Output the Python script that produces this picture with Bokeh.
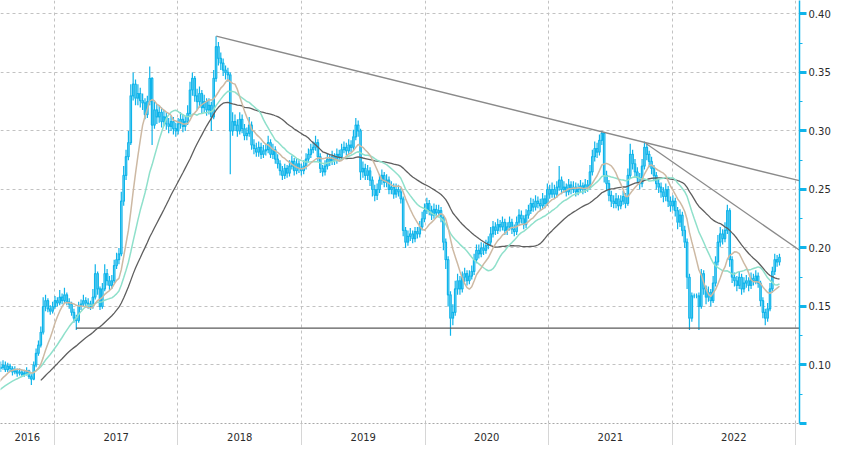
import numpy as np
import pandas as pd
from bokeh.plotting import figure
from bokeh.models import FixedTicker, Range1d, ColumnDataSource, PrintfTickFormatter
from bokeh.embed import file_html
from bokeh.resources import INLINE

# ---------------- data (weekly bars) ----------------
start_date = "2016-02-22"

close = [
    .068, .067, .069, .070, .068, .071, .072, .070, .073, .074,
    .072, .075, .074, .077, .079, .078, .082, .085, .088, .091,
    .094, .097, .098, .100, .096, .099, .097, .094, .095, .093,
    .094, .092, .093, .095, .090, .088, .100, .110, .117, .128,
    .150, .155, .148, .146, .150, .155, .153, .158, .155, .160,
    .154, .152, .145, .140, .138, .150, .152, .155, .153, .152,
    .150, .158, .178, .165, .150, .165, .178, .172, .168, .172,
    .185, .190, .195, .240, .262, .278, .290, .330, .340, .328,
    .332, .326, .324, .314, .325, .345, .305, .318, .312, .316,
    .308, .312, .306, .304, .308, .302, .300, .306, .310, .304,
    .308, .315, .335, .345, .330, .325, .332, .320, .325, .318,
    .322, .312, .345, .372, .362, .358, .352, .350, .348, .300,
    .308, .305, .300, .310, .302, .296, .298, .305, .288, .285,
    .282, .286, .280, .283, .284, .290, .280, .284, .276, .272,
    .266, .262, .268, .264, .270, .274, .266, .272, .268, .266,
    .270, .276, .280, .284, .286, .290, .278, .268, .265, .270,
    .276, .274, .278, .275, .280, .278, .284, .286, .283, .288,
    .286, .295, .305, .300, .265, .268, .262, .266, .258, .250,
    .245, .250, .258, .262, .256, .258, .250, .252, .246, .250,
    .248, .242, .215, .205, .210, .212, .208, .214, .212, .218,
    .225, .232, .238, .232, .228, .233, .230, .232, .226, .205,
    .190, .160, .140, .145, .165, .172, .165, .175, .178, .172,
    .176, .180, .190, .198, .195, .200, .198, .202, .205, .212,
    .218, .215, .220, .218, .222, .215, .218, .222, .216, .214,
    .222, .228, .225, .220, .228, .232, .238, .235, .240, .238,
    .236, .242, .238, .250, .246, .250, .246, .252, .258, .250,
    .252, .248, .254, .250, .252, .248, .250, .253, .250, .254,
    .252, .265, .278, .285, .282, .292, .298, .262, .255, .245,
    .240, .238, .242, .236, .240, .244, .238, .262, .280, .272,
    .265, .260, .255, .270, .286, .280, .274, .268, .262, .255,
    .252, .248, .244, .250, .240, .236, .240, .232, .222, .228,
    .215, .205, .175, .140, .159, .159, .159, .150, .178, .165,
    .158, .162, .155, .170, .188, .205, .212, .208, .215, .232,
    .190, .175, .172, .168, .175, .165, .170, .172, .168, .174,
    .172, .176, .170, .155, .145, .140, .148, .165, .180, .190,
    .188, .192,
]

high = [
    .071, .070, .071, .072, .072, .073, .074, .074, .075, .076,
    .076, .077, .077, .079, .081, .081, .084, .087, .090, .093,
    .096, .100, .103, .104, .103, .102, .101, .099, .099, .097,
    .097, .096, .096, .098, .096, .092, .103, .114, .121, .133,
    .158, .160, .157, .151, .154, .159, .158, .164, .161, .166,
    .162, .157, .154, .148, .143, .154, .156, .160, .158, .157,
    .155, .165, .186, .180, .167, .170, .186, .182, .176, .177,
    .190, .196, .200, .248, .270, .284, .300, .340, .350, .344,
    .340, .337, .332, .328, .330, .355, .346, .325, .323, .322,
    .320, .318, .316, .311, .313, .312, .307, .311, .316, .314,
    .313, .322, .342, .350, .347, .336, .338, .335, .331, .328,
    .328, .325, .352, .381, .376, .367, .362, .356, .354, .350,
    .316, .314, .310, .316, .314, .306, .303, .312, .308, .293,
    .290, .291, .290, .288, .289, .296, .293, .289, .287, .280,
    .275, .270, .272, .271, .275, .279, .277, .276, .275, .272,
    .275, .281, .285, .289, .291, .296, .293, .281, .271, .275,
    .281, .280, .283, .281, .285, .284, .289, .291, .290, .293,
    .292, .301, .311, .309, .302, .274, .272, .271, .269, .261,
    .254, .255, .263, .267, .265, .263, .261, .257, .255, .255,
    .254, .251, .244, .218, .215, .217, .215, .218, .218, .223,
    .231, .238, .243, .241, .236, .238, .237, .237, .235, .228,
    .208, .193, .163, .152, .172, .178, .176, .180, .183, .181,
    .181, .185, .195, .203, .203, .205, .204, .207, .210, .218,
    .223, .222, .225, .224, .227, .225, .222, .227, .225, .220,
    .227, .233, .232, .228, .233, .237, .243, .242, .245, .244,
    .242, .247, .245, .255, .254, .256, .254, .257, .270, .261,
    .257, .255, .259, .257, .257, .256, .255, .258, .256, .259,
    .258, .271, .284, .291, .290, .297, .300, .299, .266, .258,
    .249, .245, .247, .245, .245, .249, .247, .268, .289, .284,
    .276, .269, .264, .276, .291, .289, .283, .278, .271, .265,
    .259, .256, .252, .255, .253, .244, .245, .243, .235, .233,
    .231, .219, .208, .178, .162, .161, .161, .162, .182, .181,
    .168, .167, .165, .176, .193, .211, .218, .216, .222, .237,
    .234, .193, .179, .176, .180, .178, .175, .177, .175, .179,
    .178, .181, .179, .172, .158, .148, .153, .170, .184, .195,
    .194, .195,
]

low = [
    .065, .065, .066, .067, .066, .067, .070, .068, .069, .071,
    .070, .071, .072, .073, .076, .076, .077, .081, .084, .087,
    .090, .093, .094, .096, .094, .094, .094, .091, .092, .090,
    .091, .090, .090, .091, .088, .083, .087, .098, .108, .115,
    .126, .146, .145, .143, .144, .148, .150, .151, .152, .153,
    .151, .148, .142, .136, .130, .136, .147, .150, .149, .148,
    .147, .148, .156, .160, .147, .148, .163, .168, .164, .165,
    .170, .182, .186, .193, .236, .258, .275, .288, .326, .322,
    .322, .320, .318, .310, .311, .322, .288, .302, .306, .307,
    .303, .304, .301, .298, .300, .297, .295, .297, .302, .299,
    .300, .305, .312, .330, .325, .318, .320, .315, .316, .313,
    .314, .300, .310, .342, .356, .352, .347, .344, .342, .263,
    .296, .300, .295, .297, .298, .292, .292, .295, .284, .280,
    .278, .278, .276, .277, .279, .281, .277, .276, .272, .268,
    .262, .258, .259, .260, .261, .267, .262, .263, .264, .262,
    .263, .267, .273, .277, .281, .283, .274, .264, .261, .262,
    .267, .270, .271, .271, .272, .274, .275, .281, .279, .280,
    .282, .283, .292, .295, .258, .260, .258, .258, .253, .244,
    .240, .241, .247, .254, .252, .252, .246, .246, .242, .243,
    .244, .238, .210, .200, .202, .206, .204, .205, .208, .209,
    .215, .222, .229, .228, .224, .225, .226, .227, .222, .198,
    .182, .150, .125, .134, .142, .160, .160, .162, .171, .168,
    .169, .173, .177, .187, .191, .192, .194, .195, .199, .202,
    .209, .211, .212, .214, .215, .211, .211, .215, .212, .210,
    .211, .219, .221, .216, .217, .225, .229, .231, .232, .234,
    .232, .233, .234, .236, .242, .243, .242, .243, .249, .246,
    .247, .244, .245, .246, .247, .244, .245, .247, .246, .247,
    .248, .250, .262, .274, .277, .279, .288, .256, .249, .240,
    .235, .234, .234, .232, .233, .237, .234, .236, .259, .267,
    .260, .255, .250, .252, .267, .275, .269, .263, .257, .250,
    .247, .243, .239, .240, .235, .231, .232, .227, .216, .218,
    .210, .200, .165, .130, .137, .157, .157, .130, .148, .160,
    .152, .154, .150, .153, .167, .185, .201, .203, .205, .212,
    .184, .170, .167, .163, .165, .160, .162, .166, .163, .165,
    .168, .169, .166, .150, .140, .134, .137, .146, .162, .177,
    .184, .185,
]

ma_windows = [10, 20, 40]          # ~50, 100, 200 trading days

x_start, x_end = 2016.563, 2023.032
year_bounds = [2017, 2018, 2019, 2020, 2021, 2022, 2023]
year_label_pos = [2016.78, 2017.5, 2018.5, 2019.5, 2020.5, 2021.5, 2022.5]
year_labels = ["2016", "2017", "2018", "2019", "2020", "2021", "2022"]

price_ticks = [0.05, 0.10, 0.15, 0.20, 0.25, 0.30, 0.35, 0.40]
price_minor = [0.075, 0.125, 0.175, 0.225, 0.275, 0.325, 0.375]
price_grid = [0.10, 0.15, 0.20, 0.25, 0.30, 0.35, 0.40]

# trend lines (decimal year, price)
resist1_x = [2018.31, 2023.03]
resist1_y = [0.381, 0.2575]
resist2_x = [2021.786, 2023.04]
resist2_y = [0.2895, 0.1975]
support_x = [2017.175, 2023.05]
support_y = [0.1315, 0.1315]

# ---------------- build ----------------
n = min(len(close), len(high), len(low))
close_a = np.array(close[:n])
open_a = np.concatenate([[close_a[0]], close_a[:-1]])
dates = pd.date_range(start_date, periods=n, freq="7D")
xyear = (dates.year + (dates.dayofyear - 0.5) / np.where(dates.is_leap_year, 366, 365)).to_numpy()

s = pd.Series(close_a)
ma = [s.rolling(w).mean().to_numpy() for w in ma_windows]

vis = xyear >= x_start          # bars inside the visible window
src = ColumnDataSource(dict(
    x=xyear[vis],
    top=np.maximum(open_a, close_a)[vis],
    bottom=np.minimum(open_a, close_a)[vis],
    high=np.array(high[:n])[vis],
    low=np.array(low[:n])[vis],
))

CYAN = "#0fb4ea"
BOTTOM = 22
p = figure(width=833, height=445,
           x_range=Range1d(x_start, x_end), y_range=Range1d(0.05, 0.4115),
           y_axis_location="right", toolbar_location=None, output_backend="svg",
           min_border_left=0, min_border_top=0, min_border_right=32, min_border_bottom=BOTTOM,
           background_fill_color="white", border_fill_color="white")
p.outline_line_color = None

# grids
p.xgrid.ticker = FixedTicker(ticks=year_bounds)
p.ygrid.ticker = FixedTicker(ticks=price_grid)
for g in (p.xgrid, p.ygrid):
    g.grid_line_color = "#c2c2c2"
    g.grid_line_dash = "3 3"
    g.grid_line_width = 1

# x axis: year separators as long minor ticks, labels centred in each year
xa = p.xaxis[0]
xa.ticker = FixedTicker(ticks=year_label_pos, minor_ticks=year_bounds)
xa.major_label_overrides = dict(zip(year_label_pos, year_labels))
xa.major_tick_line_color = None
xa.major_tick_out = 0
xa.major_tick_in = 0
xa.minor_tick_out = BOTTOM
xa.minor_tick_in = 0
xa.minor_tick_line_color = "#d6d6d6"
xa.major_label_standoff = -(BOTTOM - 9)
xa.axis_line_color = "#a8a8a8"
xa.axis_line_dash = "2 2"
xa.major_label_text_font = "DejaVu Sans"
xa.major_label_text_font_size = "10px"
xa.major_label_text_color = "#2b2b2b"

# y axis (right)
ya = p.yaxis[0]
ya.ticker = FixedTicker(ticks=price_ticks, minor_ticks=price_minor)
ya.formatter = PrintfTickFormatter(format="%.2f")
ya.major_label_overrides = {price_ticks[0]: ""}
ya.axis_line_color = CYAN
ya.axis_line_width = 1.5
ya.major_tick_line_color = CYAN
ya.major_tick_line_width = 3
ya.major_tick_out = 7
ya.major_tick_in = 0
ya.minor_tick_line_color = CYAN
ya.minor_tick_out = 3
ya.minor_tick_in = 0
ya.major_label_standoff = 2
ya.major_label_text_font = "DejaVu Sans"
ya.major_label_text_font_size = "10px"
ya.major_label_text_color = "#2b2b2b"

# candles
bar_w = 4.2 / 365.25
p.segment(x0="x", y0="low", x1="x", y1="high", source=src, line_color=CYAN, line_width=1.2)
p.vbar(x="x", width=bar_w, top="top", bottom="bottom", source=src,
       fill_color="white", line_color=CYAN, line_width=1.2)

# moving averages
p.line(xyear, ma[2], line_color="#5e5e5e", line_width=1.3)
p.line(xyear, ma[1], line_color="#8fe0cb", line_width=1.5)
p.line(xyear, ma[0], line_color="#cdb9a3", line_width=1.5)

# trend lines
p.line(resist1_x, resist1_y, line_color="#8a8a8a", line_width=1.3)
p.line(resist2_x, resist2_y, line_color="#8a8a8a", line_width=1.3)
p.line(support_x, support_y, line_color="#5a5a5a", line_width=1.2)

open("out.html", "w").write(file_html(p, INLINE))
